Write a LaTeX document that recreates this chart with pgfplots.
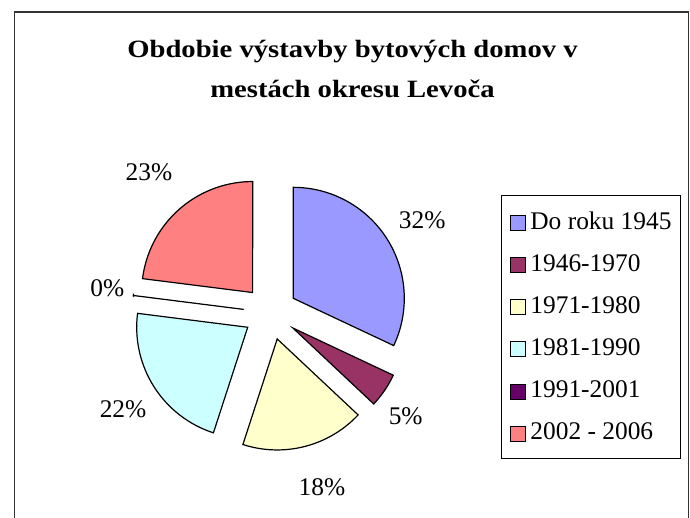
\documentclass[border=0pt]{standalone}
\usepackage{fontspec}
\setmainfont{Liberation Serif}
\newfontfamily\titlefont{Liberation Serif}[FakeStretch=1.15]
\usepackage{pgfplots}
\usepackage{pgfplotstable}
\pgfplotsset{compat=1.18}

% Excel 2003 pie palette
\definecolor{c0}{HTML}{9999FF}
\definecolor{c1}{HTML}{993366}
\definecolor{c2}{HTML}{FFFFCC}
\definecolor{c3}{HTML}{CCFFFF}
\definecolor{c4}{HTML}{660066}
\definecolor{c5}{HTML}{FF8080}

% value in %, label distance from centre and angle shift (as placed in the chart)
\pgfplotstableread{
label value dist dang
{Do roku 1945} 32 178 -0.9
1946-1970 5 170 -3.1
1971-1980 18 182 2
1981-1990 22 176 0.7
1991-2001 0 165 -1.4
{2002 - 2006} 23 186 -0.6
}\piedata

\def\cx{270.5}\def\cy{205.2}
\def\R{111}\def\ex{27}

\begin{document}
\begin{tikzpicture}
\path[use as bounding box] (0,0) rectangle (690bp,518bp);
\begin{axis}[
  at={(0,0)}, anchor=south west,
  scale only axis, width=690bp, height=518bp,
  xmin=0, xmax=690, ymin=0, ymax=518,
  hide axis,
  legend style={at={(axis cs:501,322.7)}, anchor=north west,
    draw=black, line width=0.8bp, inner xsep=9bp, inner ysep=16.5bp,
    row sep=23.1bp, font=\fontsize{25.5}{30}\selectfont,
    nodes={inner sep=0pt, text height=17bp, text depth=0pt},
    /tikz/every odd column/.append style={column sep=4bp}},
  legend cell align=left,
  legend image code/.code={\draw[#1,draw=black,line width=1bp] (0bp,-10bp) rectangle (15bp,5bp);},
]
\def\cum{0}
\pgfplotsforeachungrouped \i in {0,...,5}{
  \pgfplotstablegetelem{\i}{value}\of\piedata
  \let\val\pgfplotsretval
  \pgfplotstablegetelem{\i}{dist}\of\piedata
  \let\ld\pgfplotsretval
  \pgfplotstablegetelem{\i}{dang}\of\piedata
  \let\la\pgfplotsretval
  \pgfmathsetmacro{\a}{90-3.6*\cum}
  \pgfmathsetmacro{\b}{90-3.6*(\cum+\val)}
  \pgfmathsetmacro{\m}{(\a+\b)/2}
  \pgfmathsetmacro{\ax}{\cx+\ex*cos(\m)}
  \pgfmathsetmacro{\ay}{\cy+\ex*sin(\m)}
  \pgfmathsetmacro{\lx}{\cx+\ld*cos(\m+\la)}
  \pgfmathsetmacro{\ly}{\cy+\ld*sin(\m+\la)}
  \pgfmathsetmacro{\lo}{\b-0.005}
  \pgfmathsetmacro{\hi}{\a+0.005}
  \pgfplotstablegetelem{\i}{label}\of\piedata
  \let\lab\pgfplotsretval
  \edef\doplot{\noexpand\addplot[draw=black, line width=1.2bp, fill=c\i,
      domain=\lo:\hi, samples=60, variable=\noexpand\t]
    ({\ax+\R*cos(\noexpand\t)}, {\ay+\R*sin(\noexpand\t)}) -- (axis cs:\ax,\ay) -- cycle;}
  \doplot
  \addlegendentryexpanded{\lab}
  \edef\donode{\noexpand\node[font=\noexpand\fontsize{25.5}{30}\noexpand\selectfont]
    at (axis cs:\lx,\ly) {\val\noexpand\%};}
  \donode
  \pgfmathsetmacro{\cum}{\cum+\val}
}
% title
\node[anchor=base, font=\titlefont\fontsize{25}{30}\selectfont\bfseries] at (axis cs:352.5,460) {Obdobie výstavby bytových domov v};
\node[anchor=base, font=\titlefont\fontsize{25}{30}\selectfont\bfseries] at (axis cs:352.5,420) {mestách okresu Levoča};
% chart area frame
\draw[line width=1.3bp, black!80] (axis cs:14.7,-10) -- (axis cs:14.7,506) -- (axis cs:688.3,506) -- (axis cs:688.3,-10);
\end{axis}
\end{tikzpicture}
\end{document}
